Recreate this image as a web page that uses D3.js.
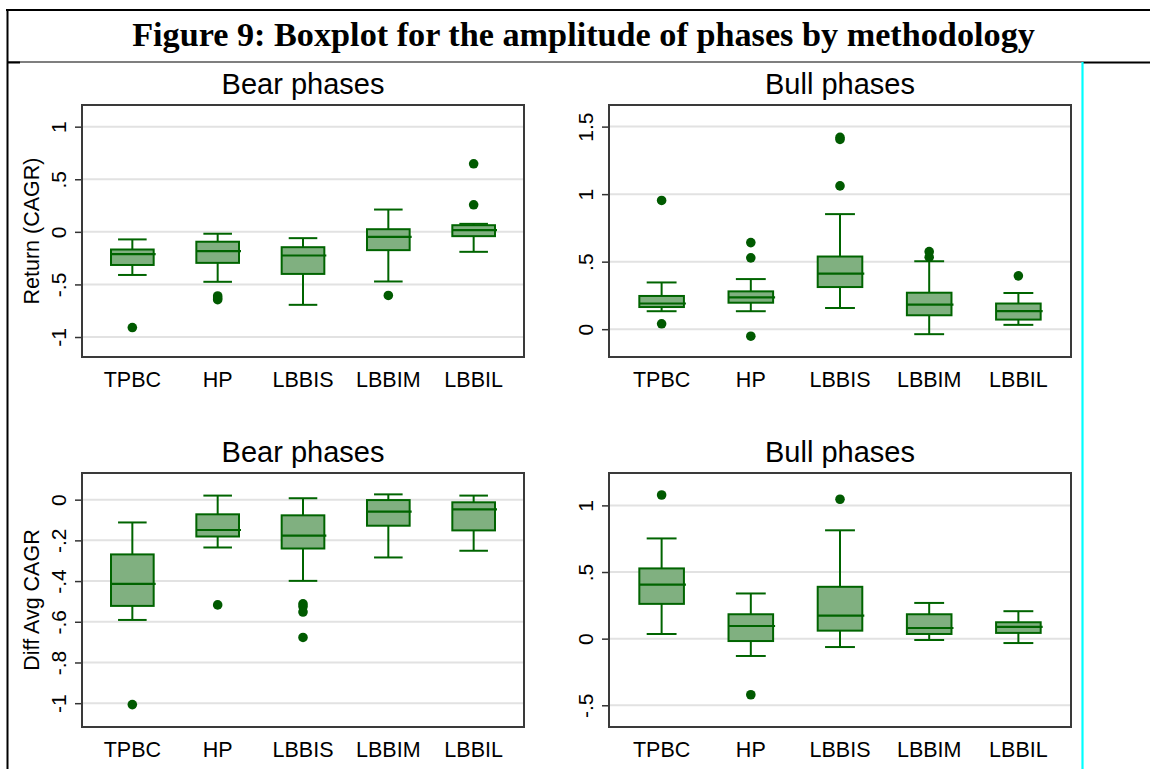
<!DOCTYPE html>
<head>
<meta charset="utf-8">
<script src="https://d3js.org/d3.v7.min.js"></script>
<style>
  body { margin: 0; background: #fff; }
  text { font-family: "Liberation Sans", Arial, sans-serif; fill: #000; }
  .axis path { display: none; }
  .axis line { stroke: #333; stroke-width: 1.5; }
</style>
</head>
<body>
<div id="chart"></div>
<script>
// categories shared by every panel
var categories = ["TPBC", "HP", "LBBIS", "LBBIM", "LBBIL"];

// Bear phases, return (CAGR)
var bearRetLow  = [-0.41, -0.475, -0.694, -0.472, -0.19];
var bearRetQ1   = [-0.315, -0.295, -0.40, -0.174, -0.041];
var bearRetMed  = [-0.211, -0.183, -0.225, -0.048, 0.016];
var bearRetQ3   = [-0.168, -0.094, -0.146, 0.025, 0.063];
var bearRetHigh = [-0.072, -0.018, -0.06, 0.212, 0.076];
var bearRetOut  = [["TPBC", -0.91], ["HP", -0.61], ["HP", -0.63], ["HP", -0.645],
                   ["LBBIM", -0.605], ["LBBIL", 0.257], ["LBBIL", 0.647]];

// Bull phases, return (CAGR)
var bullRetLow  = [0.133, 0.133, 0.157, -0.037, 0.032];
var bullRetQ1   = [0.164, 0.196, 0.312, 0.103, 0.071];
var bullRetMed  = [0.19, 0.236, 0.412, 0.182, 0.133];
var bullRetQ3   = [0.246, 0.28, 0.538, 0.27, 0.19];
var bullRetHigh = [0.346, 0.371, 0.852, 0.503, 0.268];
var bullRetOut  = [["TPBC", 0.953], ["TPBC", 0.04], ["HP", 0.641], ["HP", 0.528], ["HP", -0.052],
                   ["LBBIS", 1.061], ["LBBIS", 1.405], ["LBBIS", 1.42],
                   ["LBBIM", 0.574], ["LBBIM", 0.533], ["LBBIL", 0.395]];

// Bear phases, diff avg CAGR
var bearDiffLow  = [-0.591, -0.235, -0.399, -0.284, -0.251];
var bearDiffQ1   = [-0.522, -0.181, -0.24, -0.128, -0.151];
var bearDiffMed  = [-0.414, -0.149, -0.177, -0.059, -0.048];
var bearDiffQ3   = [-0.269, -0.072, -0.077, -0.002, -0.013];
var bearDiffHigh = [-0.112, 0.02, 0.007, 0.026, 0.02];
var bearDiffOut  = [["TPBC", -1.007], ["HP", -0.517],
                    ["LBBIS", -0.512], ["LBBIS", -0.525], ["LBBIS", -0.552], ["LBBIS", -0.677]];

// Bull phases, diff avg CAGR
var bullDiffLow  = [0.035, -0.13, -0.063, -0.01, -0.033];
var bullDiffQ1   = [0.261, -0.018, 0.06, 0.035, 0.043];
var bullDiffMed  = [0.406, 0.095, 0.173, 0.08, 0.088];
var bullDiffQ3   = [0.527, 0.183, 0.389, 0.183, 0.123];
var bullDiffHigh = [0.752, 0.339, 0.813, 0.268, 0.206];
var bullDiffOut  = [["TPBC", 1.078], ["HP", -0.421], ["LBBIS", 1.046]];

// y axis ticks and their labels
var ticksA = [-1, -0.5, 0, 0.5, 1],        labelsA = ["-1", "-.5", "0", ".5", "1"];
var ticksB = [0, 0.5, 1, 1.5],             labelsB = ["0", ".5", "1", "1.5"];
var ticksC = [-1, -0.8, -0.6, -0.4, -0.2, 0], labelsC = ["-1", "-.8", "-.6", "-.4", "-.2", "0"];
var ticksD = [-0.5, 0, 0.5, 1],            labelsD = ["-.5", "0", ".5", "1"];

var W = 1150, H = 769;
var boxFill = "#80b080", boxStroke = "#006400", dotColor = "#005a00";

var svg = d3.select("#chart").append("svg")
    .attr("width", W).attr("height", H);

svg.append("rect").attr("width", W).attr("height", H).attr("fill", "#fff");

// outer document frame
svg.append("line").attr("x1", 6).attr("x2", W).attr("y1", 10).attr("y2", 10)
    .attr("stroke", "#000").attr("stroke-width", 2);
svg.append("line").attr("x1", 7.5).attr("x2", 7.5).attr("y1", 9).attr("y2", H)
    .attr("stroke", "#000").attr("stroke-width", 2);
svg.append("line").attr("x1", 7).attr("x2", 1082).attr("y1", 62).attr("y2", 62)
    .attr("stroke", "#000").attr("stroke-width", 1.2);
svg.append("line").attr("x1", 7).attr("x2", 20).attr("y1", 62.5).attr("y2", 62.5)
    .attr("stroke", "#000").attr("stroke-width", 2);
svg.append("line").attr("x1", 1082).attr("x2", W).attr("y1", 62.5).attr("y2", 62.5)
    .attr("stroke", "#000").attr("stroke-width", 2.2);
svg.append("line").attr("x1", 1082.5).attr("x2", 1082.5).attr("y1", 62).attr("y2", H)
    .attr("stroke", "#00ffff").attr("stroke-width", 2.2);

// main title, sized to span the measured width
var mainTitle = svg.append("text")
    .attr("x", 583.5).attr("y", 46)
    .attr("text-anchor", "middle")
    .style("font-family", "'Liberation Serif', 'DejaVu Serif', serif")
    .style("font-weight", "bold")
    .style("font-size", "33px")
    .text("Figure 9: Boxplot for the amplitude of phases by methodology");
var tw = mainTitle.node().getComputedTextLength();
mainTitle.style("font-size", (33 * 903 / tw).toFixed(2) + "px");

var panels = [
  { title: "Bear phases", ytitle: "Return (CAGR)", x0: 82, x1: 524, y0: 105, y1: 357,
    domain: [-1.19, 1.206], ticks: ticksA, labels: labelsA,
    low: bearRetLow, q1: bearRetQ1, med: bearRetMed, q3: bearRetQ3, high: bearRetHigh, out: bearRetOut },
  { title: "Bull phases", ytitle: null, x0: 609, x1: 1071, y0: 105, y1: 357,
    domain: [-0.206, 1.66], ticks: ticksB, labels: labelsB,
    low: bullRetLow, q1: bullRetQ1, med: bullRetMed, q3: bullRetQ3, high: bullRetHigh, out: bullRetOut },
  { title: "Bear phases", ytitle: "Diff Avg CAGR", x0: 82, x1: 524, y0: 473, y1: 727,
    domain: [-1.117, 0.131], ticks: ticksC, labels: labelsC,
    low: bearDiffLow, q1: bearDiffQ1, med: bearDiffMed, q3: bearDiffQ3, high: bearDiffHigh, out: bearDiffOut },
  { title: "Bull phases", ytitle: null, x0: 609, x1: 1071, y0: 473, y1: 727,
    domain: [-0.663, 1.243], ticks: ticksD, labels: labelsD,
    low: bullDiffLow, q1: bullDiffQ1, med: bullDiffMed, q3: bullDiffQ3, high: bullDiffHigh, out: bullDiffOut }
];

panels.forEach(function(p) {
    var x = d3.scalePoint().domain(categories).range([p.x0, p.x1]).padding(0.59);
    var y = d3.scaleLinear().domain(p.domain).range([p.y1, p.y0]);
    var step = x.step();
    var bw = step * 0.5, cw = step * 0.335;
    var g = svg.append("g");

    // gridlines
    g.selectAll(".grid").data(p.ticks).enter().append("line")
        .attr("x1", p.x0).attr("x2", p.x1)
        .attr("y1", function(d) { return y(d); }).attr("y2", function(d) { return y(d); })
        .attr("stroke", "#e2e2e2").attr("stroke-width", 2);

    // y axis with rotated labels
    var yAxis = d3.axisLeft(y).tickValues(p.ticks).tickSize(7)
        .tickFormat(function(d, i) { return p.labels[i]; });
    var ax = g.append("g").attr("class", "axis")
        .attr("transform", "translate(" + p.x0 + ",0)")
        .call(yAxis);
    ax.selectAll("text")
        .attr("x", null).attr("dy", "0.35em")
        .attr("text-anchor", "middle")
        .attr("transform", "translate(-23,0) rotate(-90)")
        .style("font-size", "21px").attr("fill", "#000");

    // x category labels
    g.selectAll(".xl").data(categories).enter().append("text")
        .attr("x", function(d) { return x(d); })
        .attr("y", p.y1 + 30)
        .attr("text-anchor", "middle")
        .style("font-size", "21.5px")
        .text(function(d) { return d; });

    // panel title
    g.append("text")
        .attr("x", (p.x0 + p.x1) / 2).attr("y", p.y0 - 11)
        .attr("text-anchor", "middle")
        .style("font-size", "29px")
        .text(p.title);

    if (p.ytitle) {
        g.append("text")
            .attr("transform", "translate(31," + ((p.y0 + p.y1) / 2) + ") rotate(-90)")
            .attr("dy", "0.35em")
            .attr("text-anchor", "middle")
            .style("font-size", "21.5px")
            .text(p.ytitle);
    }

    // boxes
    categories.forEach(function(c, i) {
        var cx = x(c);
        var bx = g.append("g");
        bx.append("line").attr("x1", cx).attr("x2", cx)
            .attr("y1", y(p.high[i])).attr("y2", y(p.q3[i]))
            .attr("stroke", boxStroke).attr("stroke-width", 2);
        bx.append("line").attr("x1", cx).attr("x2", cx)
            .attr("y1", y(p.q1[i])).attr("y2", y(p.low[i]))
            .attr("stroke", boxStroke).attr("stroke-width", 2);
        bx.append("line").attr("x1", cx - cw / 2).attr("x2", cx + cw / 2)
            .attr("y1", y(p.high[i])).attr("y2", y(p.high[i]))
            .attr("stroke", boxStroke).attr("stroke-width", 2);
        bx.append("line").attr("x1", cx - cw / 2).attr("x2", cx + cw / 2)
            .attr("y1", y(p.low[i])).attr("y2", y(p.low[i]))
            .attr("stroke", boxStroke).attr("stroke-width", 2);
        bx.append("rect")
            .attr("x", cx - bw / 2).attr("width", bw)
            .attr("y", y(p.q3[i])).attr("height", y(p.q1[i]) - y(p.q3[i]))
            .attr("fill", boxFill).attr("stroke", boxStroke).attr("stroke-width", 2);
        bx.append("line").attr("x1", cx - bw / 2).attr("x2", cx + bw / 2 + 2)
            .attr("y1", y(p.med[i])).attr("y2", y(p.med[i]))
            .attr("stroke", boxStroke).attr("stroke-width", 2.2);
    });

    // outliers
    g.selectAll(".dot").data(p.out).enter().append("circle")
        .attr("cx", function(d) { return x(d[0]); })
        .attr("cy", function(d) { return y(d[1]); })
        .attr("r", 4.8)
        .attr("fill", dotColor);

    // plot frame
    g.append("rect")
        .attr("x", p.x0).attr("y", p.y0)
        .attr("width", p.x1 - p.x0).attr("height", p.y1 - p.y0)
        .attr("fill", "none").attr("stroke", "#3a3a3a").attr("stroke-width", 2);
});
</script>
</body>
